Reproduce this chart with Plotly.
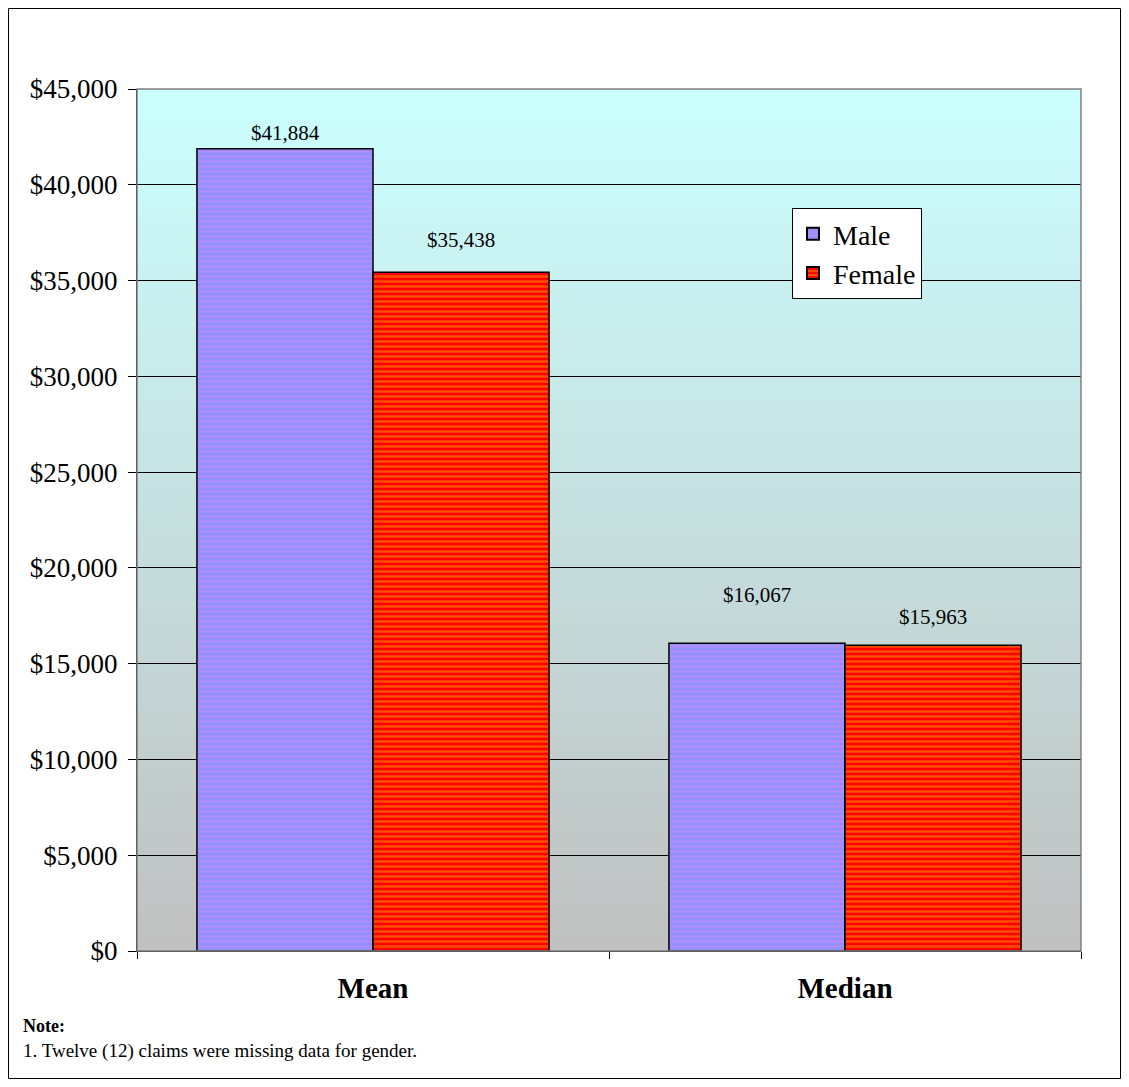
import plotly.graph_objects as go

categories = ["Mean", "Median"]
male_values = [41884, 16067]
female_values = [35438, 15963]
label_shift_male = [16, 48]
label_shift_female = [32, 28]
tick_vals = [0, 5000, 10000, 15000, 20000, 25000, 30000, 35000, 40000, 45000]
tick_text = ["$0", "$5,000", "$10,000", "$15,000", "$20,000", "$25,000", "$30,000", "$35,000", "$40,000", "$45,000"]

SERIF = "Liberation Serif, Times New Roman, serif"
W, H = 1129, 1087
OFF = 8  # page body margin
L, T = 137 - OFF, 89 - OFF
R = W - (1081 - OFF)
B = H - (951 - OFF)
pw, ph = W - L - R, H - T - B

def px_x(x):
    return (x - OFF - L) / pw

def px_y(y):
    return (H - B - (y - OFF)) / ph

fig = go.Figure()
fig.add_trace(go.Bar(
    name="Male", x=categories, y=male_values,
    marker=dict(color="#9494FF", line=dict(color="black", width=1.5),
                pattern=dict(shape="-", fgcolor="#CC8CFF", bgcolor="#9090FF", size=5, solidity=0.5)),
))
fig.add_trace(go.Bar(
    name="Female", x=categories, y=female_values,
    marker=dict(color="#FF0000", line=dict(color="black", width=1.5),
                pattern=dict(shape="-", fgcolor="#FF9900", bgcolor="#FF0000", size=5, solidity=0.5)),
))

def fmt(v):
    return "${:,}".format(v)

annotations = []
for i, c in enumerate(categories):
    annotations.append(dict(x=c, y=male_values[i], xshift=-88, yshift=label_shift_male[i], text=fmt(male_values[i]),
                            showarrow=False, yanchor="middle", font=dict(family=SERIF, size=21, color="black")))
    annotations.append(dict(x=c, y=female_values[i], xshift=88, yshift=label_shift_female[i], text=fmt(female_values[i]),
                            showarrow=False, yanchor="middle", font=dict(family=SERIF, size=21, color="black")))

annotations.append(dict(xref="paper", yref="paper", x=px_x(21), y=px_y(1026), xanchor="left", yanchor="middle",
                        text="<b>Note:</b>", showarrow=False, font=dict(family=SERIF, size=18, color="black")))
annotations.append(dict(xref="paper", yref="paper", x=px_x(21), y=px_y(1051), xanchor="left", yanchor="middle",
                        text="1. Twelve (12) claims were missing data for gender.", showarrow=False,
                        font=dict(family=SERIF, size=19, color="black")))

# gradient background bands
shapes = []
n = 80
top = (204, 255, 255)
bot = (192, 192, 192)
for k in range(n):
    t = (k + 0.5) / n
    col = tuple(round(top[j] * (1 - t) + bot[j] * t) for j in range(3))
    shapes.append(dict(type="rect", xref="x domain", yref="y domain", x0=0, x1=1,
                       y0=1 - (k + 1) / n - 0.001, y1=1 - k / n, fillcolor="rgb(%d,%d,%d)" % col,
                       line=dict(width=0), layer="below"))
shapes.append(dict(type="rect", xref="x domain", yref="y domain", x0=0, x1=1, y0=0, y1=1,
                   line=dict(color="#808080", width=1.5), layer="above"))
# outer border
shapes.append(dict(type="rect", xref="paper", yref="paper",
                   x0=px_x(8.5), x1=px_x(1120.5), y0=px_y(1078.5), y1=px_y(8.5),
                   line=dict(color="black", width=1)))

fig.update_layout(
    width=W, height=H,
    margin=dict(l=L, r=R, t=T, b=B),
    paper_bgcolor="white", plot_bgcolor="rgba(0,0,0,0)",
    barmode="group", bargap=0.254, bargroupgap=0,
    font=dict(family=SERIF, color="black"),
    showlegend=True,
    legend=dict(x=px_x(792), y=px_y(208), xanchor="left", yanchor="top",
                bgcolor="white", bordercolor="black", borderwidth=1,
                font=dict(family=SERIF, size=28, color="black"),
                itemsizing="constant", tracegroupgap=6, itemwidth=30),
    annotations=annotations,
    shapes=shapes,
)
fig.update_yaxes(range=[0, 45000], tickvals=tick_vals, ticktext=tick_text,
                 tickfont=dict(family=SERIF, size=27, color="black"),
                 ticks="outside", ticklen=8, tickcolor="black", ticklabelstandoff=5,
                 showgrid=True, gridcolor="black", gridwidth=1,
                 showline=True, linecolor="black", linewidth=1, zeroline=False)
fig.update_xaxes(tickfont=dict(family=SERIF, size=29, color="black"),
                 tickprefix="<b>", ticksuffix="</b>",
                 ticks="outside", ticklen=7, tickcolor="black", tickson="boundaries",
                 ticklabelstandoff=11,
                 showline=True, linecolor="black", linewidth=1)

fig.write_html("out.html")
